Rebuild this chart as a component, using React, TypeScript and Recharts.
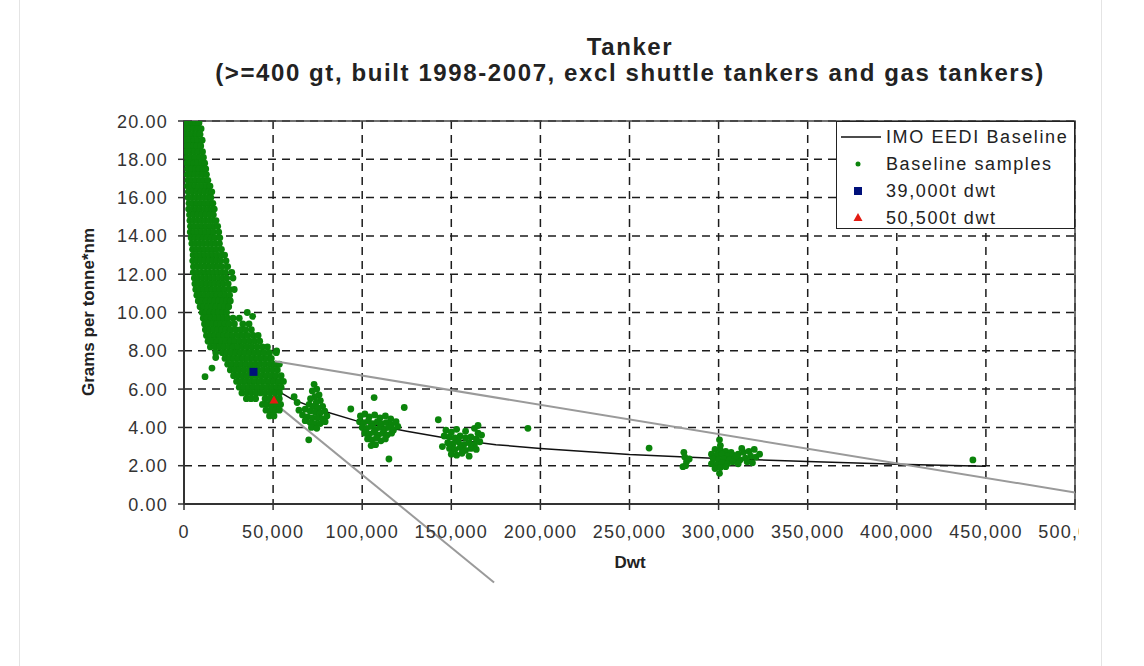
import React from 'react';
import { ComposedChart, Scatter, XAxis, YAxis, CartesianGrid, ReferenceLine, ReferenceArea } from 'recharts';

const FONT = '"Liberation Sans", Arial, Helvetica, sans-serif';

const titleText = 'Tanker';
const subtitleText = '(>=400 gt, built 1998-2007, excl shuttle tankers and gas tankers)';
const xAxisTitle = 'Dwt';
const yAxisTitle = 'Grams per tonne*nm';
const legendLabels = ['IMO EEDI Baseline', 'Baseline samples', '39,000t dwt', '50,500t dwt'];

const xTicks = [0, 50000, 100000, 150000, 200000, 250000, 300000, 350000, 400000, 450000, 500000];
const yTicks = [0, 2, 4, 6, 8, 10, 12, 14, 16, 18, 20];

// Dense cluster of small tankers, read row by row: [grams per tonne*nm, dwt in thousands]
const smallTankerRows: [number, number[]][] = [
  [20.1, [0.6, 2.8, 5.0, 7.2]],
  [19.9, [0.4, 2.3, 4.5, 6.6, 8.4]],
  [19.6, [0.8, 3.1, 5.2, 7.4, 9.6]],
  [19.3, [1.2, 2.7, 4.8, 6.9, 9.0]],
  [19.0, [1.0, 3.4, 5.6, 7.8, 10.2]],
  [18.7, [1.5, 3.0, 5.1, 7.2, 9.4]],
  [18.4, [1.3, 3.6, 5.8, 8.0, 10.4]],
  [18.1, [1.8, 4.0, 6.3, 8.7, 10.9]],
  [17.8, [1.6, 3.5, 5.5, 7.6, 9.8, 11.6]],
  [17.5, [2.0, 4.2, 6.4, 8.5, 10.7, 12.2]],
  [17.2, [1.9, 3.8, 6.0, 8.1, 10.3, 12.6]],
  [16.9, [2.2, 4.5, 6.7, 8.9, 11.2, 13.4]],
  [16.6, [2.0, 4.1, 6.2, 8.4, 10.6, 12.8, 14.6]],
  [16.3, [2.4, 4.7, 7.0, 9.2, 11.5, 13.7, 15.6]],
  [16.0, [2.3, 4.4, 6.6, 8.8, 11.0, 13.2, 15.1]],
  [15.7, [2.8, 5.0, 7.3, 9.6, 11.8, 14.0, 16.2]],
  [15.4, [2.6, 4.8, 6.9, 9.1, 11.4, 13.6, 15.8, 17.0]],
  [15.1, [3.1, 5.4, 7.6, 9.9, 12.1, 14.4, 16.5]],
  [14.8, [3.3, 5.2, 7.4, 9.5, 11.7, 13.9, 16.0, 18.0]],
  [14.5, [3.6, 5.8, 8.1, 10.3, 12.5, 14.8, 17.1, 18.9]],
  [14.2, [3.5, 5.6, 7.8, 10.0, 12.2, 14.4, 16.6, 19.5]],
  [13.9, [4.0, 6.2, 8.5, 10.7, 13.0, 15.2, 17.4, 20.1]],
  [13.6, [4.4, 6.5, 8.8, 11.0, 13.3, 15.5, 17.8, 19.9]],
  [13.3, [4.8, 7.0, 9.2, 11.4, 13.7, 15.9, 18.2, 21.0]],
  [13.0, [5.1, 7.3, 9.6, 11.8, 14.1, 16.3, 18.6, 20.9, 22.8]],
  [12.7, [4.9, 7.1, 9.3, 11.6, 13.8, 16.1, 18.3, 20.5, 23.6]],
  [12.4, [5.3, 7.6, 9.9, 12.2, 14.5, 16.8, 19.0, 21.4, 24.5]],
  [12.1, [5.2, 7.4, 9.7, 12.0, 14.2, 16.5, 18.8, 21.1, 23.3, 26.8]],
  [11.8, [5.8, 8.0, 10.3, 12.6, 14.9, 17.1, 19.4, 21.7, 24.0, 27.5]],
  [11.5, [6.1, 8.4, 10.6, 12.9, 15.2, 17.5, 19.8, 22.1, 24.8]],
  [11.2, [6.6, 8.8, 11.1, 13.4, 15.7, 18.0, 20.3, 22.6, 25.5, 28.2]],
  [10.9, [7.2, 9.4, 11.7, 14.0, 16.3, 18.6, 20.9, 23.2, 25.6]],
  [10.6, [8.0, 10.2, 12.5, 14.8, 17.1, 19.4, 21.7, 24.0, 26.0]],
  [10.3, [9.0, 11.2, 13.5, 15.8, 18.1, 20.4, 22.7, 25.1]],
  [10.0, [10.2, 12.4, 14.7, 17.0, 19.3, 21.6, 23.9, 35.5]],
  [9.7, [10.8, 13.0, 15.3, 17.6, 19.9, 22.2, 24.5, 27.5, 31.0]],
  [9.4, [11.5, 13.8, 16.1, 18.4, 20.7, 23.0, 25.4, 28.3, 33.0, 36.5]],
  [9.1, [12.0, 14.3, 16.6, 18.9, 21.2, 23.6, 26.0, 29.0, 31.8, 34.6, 37.8]],
  [8.8, [12.6, 15.0, 17.4, 19.8, 22.3, 24.7, 27.2, 30.2, 33.0, 35.8, 38.8, 41.6]],
  [8.5, [13.5, 16.0, 18.5, 21.0, 23.5, 26.0, 28.5, 31.2, 34.0, 36.8, 39.6, 42.5]],
  [8.2, [14.8, 17.5, 20.0, 22.5, 25.1, 27.6, 30.2, 32.8, 35.5, 38.2, 41.0, 44.0, 46.8]],
  [7.9, [17.8, 21.5, 24.0, 26.5, 29.0, 31.6, 34.2, 36.9, 39.6, 42.3, 45.0, 48.0, 51.8]],
  [7.6, [23.0, 25.5, 28.0, 30.5, 33.1, 35.7, 38.4, 41.1, 43.8, 46.5, 49.0]],
  [7.3, [24.5, 27.0, 29.6, 32.2, 34.8, 37.4, 40.1, 42.8, 45.5, 48.2, 51.0, 53.5]],
  [7.0, [26.0, 28.5, 31.1, 33.7, 36.3, 38.9, 41.6, 44.3, 47.0, 49.7, 52.4]],
  [6.7, [27.8, 30.3, 32.9, 35.5, 38.1, 40.8, 43.5, 46.2, 48.9, 51.6, 54.5]],
  [6.4, [29.5, 32.0, 34.6, 37.2, 39.8, 42.5, 45.2, 47.9, 50.6, 53.3, 55.8]],
  [6.1, [31.0, 33.6, 36.2, 38.8, 41.4, 44.1, 46.8, 49.5, 52.2, 54.5]],
  [5.8, [32.5, 35.2, 37.8, 40.4, 43.0, 45.7, 48.4, 51.1, 53.6]],
  [5.5, [35.0, 37.6, 40.2, 45.5, 48.2, 50.9, 53.5]],
  [5.2, [44.0, 46.6, 49.3, 52.0, 54.2]],
  [4.9, [46.0, 48.6, 51.3, 53.5]],
  [4.6, [48.0, 50.5]],
];

// Remaining samples: [dwt in thousands, grams per tonne*nm]
const smallTankerOutliers: [number, number][] = [
  [11.8, 6.65], [15.7, 7.1], [17.8, 7.65], [52.0, 8.0], [38.5, 9.8],
];
const panamaxCluster: [number, number][] = [
  [73.0, 6.25], [74.5, 6.0], [72.0, 5.9], [75.8, 5.7], [73.5, 5.6], [71.0, 5.5], [76.5, 5.4],
  [74.2, 5.3], [70.2, 5.2], [72.5, 5.1], [77.8, 5.1], [75.3, 5.0], [68.0, 4.95], [70.8, 4.85],
  [73.6, 4.8], [76.4, 4.75], [79.0, 4.85], [66.5, 4.65], [69.3, 4.55], [72.1, 4.5], [74.9, 4.5],
  [77.7, 4.45], [80.2, 4.6], [68.0, 4.35], [70.8, 4.25], [73.6, 4.2], [76.4, 4.2], [79.2, 4.3],
  [71.5, 4.0], [74.5, 3.95], [63.5, 5.3], [64.5, 4.9], [61.8, 5.6], [70.0, 3.35],
];
const aframaxCluster: [number, number][] = [
  [93.6, 4.96], [106.7, 5.56], [123.6, 5.04], [99.0, 4.6], [101.5, 4.7], [104.0, 4.55], [107.0, 4.65],
  [110.0, 4.5], [113.0, 4.6], [116.0, 4.45], [98.5, 4.3], [101.0, 4.25], [103.5, 4.35], [106.0, 4.2],
  [108.5, 4.3], [111.0, 4.2], [113.5, 4.25], [116.5, 4.15], [119.0, 4.3], [100.0, 4.0], [102.5, 3.95],
  [105.0, 4.05], [107.5, 3.9], [110.0, 4.0], [112.5, 3.9], [115.0, 4.0], [117.5, 3.85], [120.0, 4.05],
  [101.5, 3.7], [104.0, 3.65], [106.5, 3.75], [109.0, 3.6], [111.5, 3.7], [114.0, 3.6], [116.5, 3.7],
  [103.0, 3.4], [105.5, 3.35], [108.0, 3.45], [110.5, 3.3], [113.0, 3.4], [105.0, 3.05], [107.5, 3.1],
  [115.0, 2.35],
];
const suezmaxCluster: [number, number][] = [
  [142.7, 4.4], [193.0, 3.95], [147, 3.85], [150, 3.75], [153, 3.9], [158, 3.8], [163, 3.95], [165, 3.7],
  [146, 3.55], [149, 3.5], [152, 3.45], [155, 3.55], [158, 3.45], [161, 3.5], [164, 3.4], [167, 3.6],
  [148, 3.2], [151, 3.15], [154, 3.25], [157, 3.1], [160, 3.2], [163, 3.1], [166, 3.25], [149, 2.9],
  [152, 2.85], [155, 2.95], [158, 2.8], [161, 2.9], [164, 2.85], [150, 2.6], [153, 2.55], [156, 2.65],
  [160, 2.5], [165, 4.1], [145, 3.0],
];
const vlccCluster: [number, number][] = [
  [261, 2.92], [280.5, 2.7], [281, 2.45], [282, 2.2], [281.5, 2.0], [283.5, 2.35], [280, 1.95],
  [300.5, 3.35], [301, 3.05], [298, 2.85], [301, 2.8], [304, 2.75], [307, 2.7], [296, 2.6], [299, 2.55],
  [302, 2.6], [305, 2.5], [308, 2.55], [311, 2.6], [314, 2.7], [317, 2.75], [320, 2.85], [297, 2.35],
  [300, 2.3], [303, 2.35], [306, 2.3], [309, 2.35], [312, 2.3], [315, 2.4], [318, 2.5], [321, 2.45],
  [296, 2.1], [299, 2.05], [302, 2.15], [305, 2.1], [308, 2.2], [311, 2.1], [316, 2.2], [319, 2.15],
  [298, 1.85], [301, 1.9], [304, 1.95], [300.5, 1.6], [313, 2.9], [310, 2.5], [323, 2.6], [442.7, 2.3],
];

// IMO EEDI baseline curve
const baselineDwt = [20000, 25000, 30000, 40000, 50000, 60000, 75000, 100000, 125000, 150000, 175000, 200000, 250000, 300000, 350000, 400000, 450000];
const baselineG = [9.7, 8.7, 7.9, 6.8, 6.05, 5.5, 4.95, 4.25, 3.8, 3.4, 3.1, 2.9, 2.58, 2.38, 2.22, 2.07, 1.97];

// grey reference lines
const shallowLineDwt = [51000, 500000];
const shallowLineG = [7.45, 0.6];
const steepLineDwt = [30000, 174000];
const steepLineG = [6.85, -4.1];

// highlighted ships
const ship39Dwt = [39000];
const ship39G = [6.9];
const ship50Dwt = [50500];
const ship50G = [5.4];

const toK = (pairs: [number, number][]) => pairs.map(([k, g]) => ({ dwt: k * 1000, g }));
const samples = [
  ...smallTankerRows.flatMap(([g, ks]) => ks.map((k) => ({ dwt: k * 1000, g }))),
  ...toK(smallTankerOutliers),
  ...toK(panamaxCluster),
  ...toK(aframaxCluster),
  ...toK(suezmaxCluster),
  ...toK(vlccCluster),
];
const zip = (xs: number[], ys: number[]) => xs.map((x, i) => ({ dwt: x, g: ys[i] }));
const baseline = zip(baselineDwt, baselineG);
const shallowLine = zip(shallowLineDwt, shallowLineG);
const steepLine = zip(steepLineDwt, steepLineG);
const ship39 = zip(ship39Dwt, ship39G);
const ship50 = zip(ship50Dwt, ship50G);

const GREEN = '#0b840b';

const SampleDot = (p: any) => <circle cx={p.cx} cy={p.cy} r={3.4} fill={GREEN} />;
const SquareDot = (p: any) => <rect x={p.cx - 4} y={p.cy - 4} width={8} height={8} fill="#00107a" />;
const TriDot = (p: any) => (
  <polygon points={`${p.cx},${p.cy - 5} ${p.cx + 4.5},${p.cy + 3} ${p.cx - 4.5},${p.cy + 3}`} fill="#e31b12" />
);
const NoDot = () => <g />;

const XTick = (p: any) => (
  <text x={p.x} y={p.y + 26} textAnchor="middle" fontFamily={FONT} fontSize={18} letterSpacing={1.2} fill="#333">
    {Number(p.payload.value).toLocaleString('en-US')}
  </text>
);
const YTick = (p: any) => (
  <text x={p.x - 8} y={p.y + 6.5} textAnchor="end" fontFamily={FONT} fontSize={18} letterSpacing={1.2} fill="#333">
    {Number(p.payload.value).toFixed(2)}
  </text>
);

const legendText: React.CSSProperties = {
  position: 'absolute',
  left: 49,
  fontFamily: FONT,
  fontSize: 18,
  letterSpacing: 1.6,
  color: '#222',
  lineHeight: '20px',
  whiteSpace: 'nowrap',
};

export default function App() {
  return (
    <div style={{ position: 'absolute', left: 0, top: 0, width: 1144, height: 666, background: '#fff' }}>
      <div style={{ position: 'absolute', left: 19, top: 0, width: 1, height: 666, background: '#e4e4e4' }} />
      <div style={{ position: 'absolute', left: 1101, top: 0, width: 1, height: 666, background: '#e4e4e4' }} />
      <div style={{ position: 'absolute', left: 20, top: 0, width: 1059, height: 666, overflow: 'hidden' }}>
        <div style={{ position: 'absolute', left: -20, top: 0, width: 1144, height: 666 }}>
          <ComposedChart width={1144} height={666} margin={{ top: 121, right: 69, bottom: 102, left: 84 }}>
            <CartesianGrid stroke="#1c1c1c" strokeWidth={1.5} strokeDasharray="8 6" />
            <XAxis
              type="number"
              dataKey="dwt"
              domain={[0, 500000]}
              ticks={xTicks}
              allowDataOverflow
              height={60}
              tickSize={6}
              tick={<XTick />}
              axisLine={{ stroke: '#333', strokeWidth: 2 }}
              tickLine={{ stroke: '#333', strokeWidth: 1.5 }}
              interval={0}
              label={{
                content: () => (
                  <text x={630} y={568} textAnchor="middle" fontFamily={FONT} fontSize={17} fontWeight="bold" fill="#222">
                    {xAxisTitle}
                  </text>
                ),
              }}
            />
            <YAxis
              type="number"
              dataKey="g"
              domain={[0, 20]}
              ticks={yTicks}
              allowDataOverflow
              width={100}
              tickSize={6}
              tick={<YTick />}
              axisLine={{ stroke: '#333', strokeWidth: 2 }}
              tickLine={{ stroke: '#333', strokeWidth: 1.5 }}
              interval={0}
              label={{
                content: () => (
                  <text
                    x={88}
                    y={312}
                    transform="rotate(-90 88 312)"
                    textAnchor="middle"
                    dominantBaseline="central"
                    fontFamily={FONT}
                    fontSize={17}
                    fontWeight="bold"
                    fill="#222"
                  >
                    {yAxisTitle}
                  </text>
                ),
              }}
            />
            <Scatter data={baseline} fill="#111" line={{ stroke: '#111', strokeWidth: 1.5 }} shape={NoDot} isAnimationActive={false} />
            <Scatter data={samples} shape={SampleDot} fill={GREEN} isAnimationActive={false} />
            <Scatter data={shallowLine} fill="#9a9a9a" line={{ stroke: '#9a9a9a', strokeWidth: 2 }} shape={NoDot} isAnimationActive={false} />
            <ReferenceLine
              segment={steepLine.map((d) => ({ x: d.dwt, y: d.g }))}
              stroke="#9a9a9a"
              strokeWidth={2}
              ifOverflow="visible"
            />
            <Scatter data={ship39} shape={SquareDot} fill="#00107a" isAnimationActive={false} />
            <Scatter data={ship50} shape={TriDot} fill="#e31b12" isAnimationActive={false} />
            <ReferenceArea x1={0} x2={500000} y1={0} y2={20} fill="none" stroke="#444" strokeWidth={1.5} ifOverflow="visible" />
          </ComposedChart>
          <div
            style={{
              position: 'absolute',
              left: 0,
              top: 34,
              width: 1260,
              textAlign: 'center',
              fontFamily: FONT,
              fontWeight: 'bold',
              fontSize: 24,
              letterSpacing: 1.6,
              lineHeight: '26px',
              color: '#222',
            }}
          >
            <div>{titleText}</div>
            <div>{subtitleText}</div>
          </div>
          <div
            style={{
              position: 'absolute',
              left: 836,
              top: 121,
              width: 239,
              height: 108,
              boxSizing: 'border-box',
              border: '1.5px solid #222',
              background: '#fff',
            }}
          >
            <svg width={48} height={108} style={{ position: 'absolute', left: 0, top: 0 }}>
              <line x1={4} x2={44} y1={15} y2={15} stroke="#111" strokeWidth={1.5} />
              <circle cx={21} cy={42} r={2.5} fill={GREEN} />
              <rect x={17} y={65} width={8} height={8} fill="#00107a" />
              <polygon points="21,91 25.5,99 16.5,99" fill="#e31b12" />
            </svg>
            <div style={{ ...legendText, top: 5 }}>{legendLabels[0]}</div>
            <div style={{ ...legendText, top: 32 }}>{legendLabels[1]}</div>
            <div style={{ ...legendText, top: 59 }}>{legendLabels[2]}</div>
            <div style={{ ...legendText, top: 86 }}>{legendLabels[3]}</div>
          </div>
        </div>
      </div>
    </div>
  );
}
